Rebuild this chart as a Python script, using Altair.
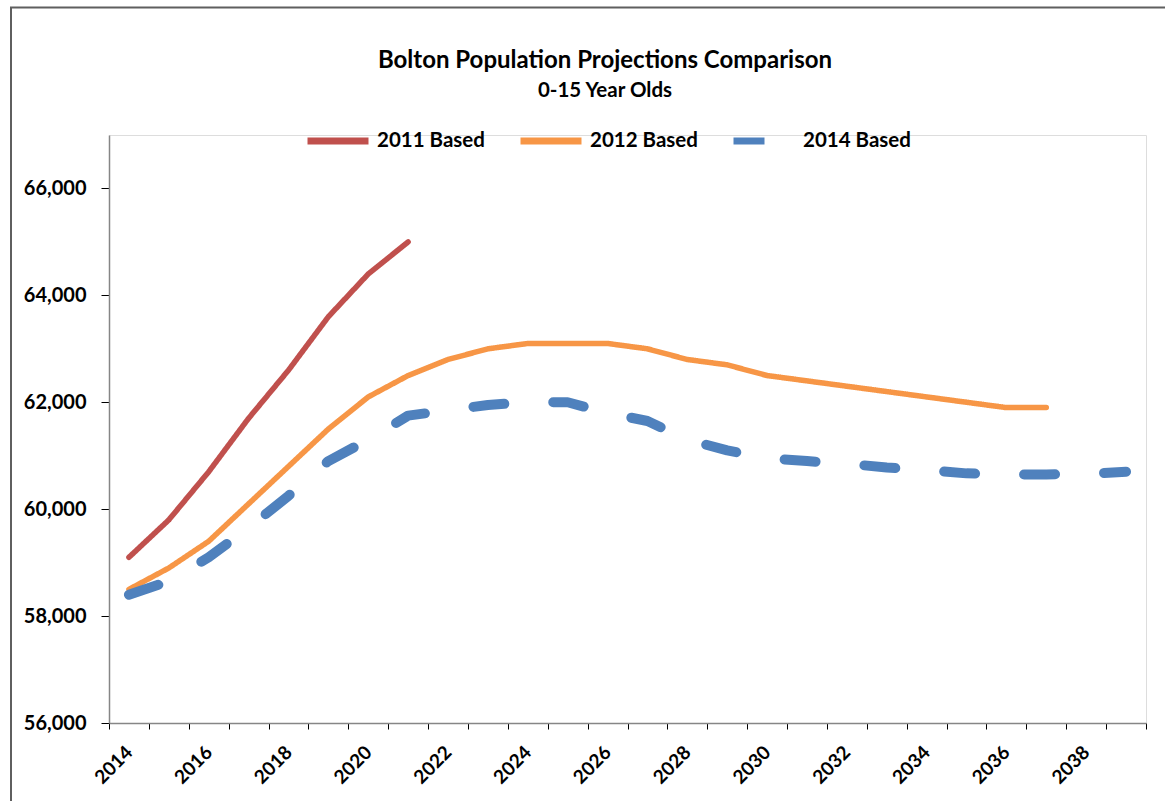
import altair as alt
import pandas as pd

# Projection years (category axis)
years = [2014, 2015, 2016, 2017, 2018, 2019, 2020, 2021, 2022, 2023, 2024, 2025, 2026,
         2027, 2028, 2029, 2030, 2031, 2032, 2033, 2034, 2035, 2036, 2037, 2038, 2039]

series_names = ["2011 Based", "2012 Based", "2014 Based"]
series_colors = ["#C0504D", "#F79646", "#4F81BD"]

# 0-15 year olds, projected population
based_2011 = [59100, 59800, 60700, 61700, 62600, 63600, 64400, 65000]
based_2012 = [58500, 58900, 59400, 60100, 60800, 61500, 62100, 62500, 62800, 63000, 63100, 63100,
              63100, 63000, 62800, 62700, 62500, 62400, 62300, 62200, 62100, 62000, 61900, 61900]
based_2014 = [58400, 58650, 59100, 59650, 60250, 60900, 61300, 61750, 61850, 61950, 62000, 62000,
              61800, 61650, 61300, 61100, 60950, 60900, 60850, 60780, 60730, 60670, 60650, 60650,
              60660, 60700]

y_ticks = [56000, 58000, 60000, 62000, 64000, 66000]

chart_title = "Bolton Population Projections Comparison"
chart_subtitle = "0-15 Year Olds"

rows = []
for name, values in zip(series_names, [based_2011, based_2012, based_2014]):
    for yr, v in zip(years, values):
        rows.append({"year": yr, "population": v, "series": name})
df = pd.DataFrame(rows)

FONT = "Lato"

lines = alt.Chart(df).mark_line(strokeCap="round", strokeJoin="round").encode(
    x=alt.X(
        "year:O",
        bandPosition=0.5,
        scale=alt.Scale(type="band", domain=years, paddingInner=0, paddingOuter=0),
        axis=alt.Axis(
            title=None,
            labelAngle=-45,
            labelAlign="right",
            labelBaseline="middle",
            labelPadding=20,
            labelFont=FONT,
            labelFontSize=19,
            labelFontWeight="bold",
            labelColor="#000000",
            labelOverlap=False,
            labelExpr="datum.value % 2 == 0 ? datum.label : ''",
            tickBand="extent",
            tickSize=6,
            tickColor="#000000",
            domainColor="#868686",
            domainWidth=1.5,
            grid=False,
        ),
    ),
    y=alt.Y(
        "population:Q",
        scale=alt.Scale(domain=[56000, 67000], nice=False, zero=False),
        axis=alt.Axis(
            title=None,
            values=y_ticks,
            format=",.0f",
            labelFont=FONT,
            labelFontSize=20,
            labelFontWeight="bold",
            labelColor="#000000",
            labelPadding=15,
            tickSize=8,
            tickColor="#000000",
            domainColor="#868686",
            domainWidth=1.5,
            grid=False,
        ),
    ),
    color=alt.Color(
        "series:N",
        scale=alt.Scale(domain=series_names, range=series_colors),
        legend=alt.Legend(
            title=None,
            orient="none",
            direction="horizontal",
            legendX=195,
            legendY=-28,
            padding=0,
            symbolType="stroke",
            symbolSize=3721,
            symbolStrokeWidth=7,
            labelFont=FONT,
            labelFontSize=20.5,
            labelFontWeight="bold",
            labelColor="#000000",
            labelOffset=5,
            columnPadding=21,
        ),
    ),
    strokeDash=alt.StrokeDash(
        "series:N",
        scale=alt.Scale(domain=series_names, range=[[1, 0], [1, 0], [31, 49]]),
        legend=None,
    ),
    strokeWidth=alt.condition(
        "datum.series == '2014 Based'", alt.value(10), alt.value(5.5)
    ),
)

# outer chart frame
frame = alt.Chart(pd.DataFrame({"k": [0]})).mark_rect(
    fill=None, stroke="#5f5f5f", strokeWidth=2
).encode(
    x=alt.value(-98),
    y=alt.value(-127.5),
    x2=alt.value(1200),
    y2=alt.value(800),
)

# heading lines, centred over the chart
title_text = alt.Chart(pd.DataFrame({"t": [chart_title]})).mark_text(
    font=FONT, fontSize=24, fontWeight="bold", color="#000000",
    align="center", baseline="alphabetic",
).encode(x=alt.value(496), y=alt.value(-67), text="t:N")

subtitle_text = alt.Chart(pd.DataFrame({"t": [chart_subtitle]})).mark_text(
    font=FONT, fontSize=20.5, fontWeight="bold", color="#000000",
    align="center", baseline="alphabetic",
).encode(x=alt.value(496), y=alt.value(-38.5), text="t:N")

chart = alt.layer(frame, title_text, subtitle_text, lines).properties(
    width=1037,
    height=588,
    autosize=alt.AutoSizeParams(type="none"),
    padding={"left": 109, "top": 135, "right": 19, "bottom": 78},
).configure_view(stroke=None).configure(background="#ffffff")

chart.save("out.html", embed_options={"renderer": "svg", "actions": False})
